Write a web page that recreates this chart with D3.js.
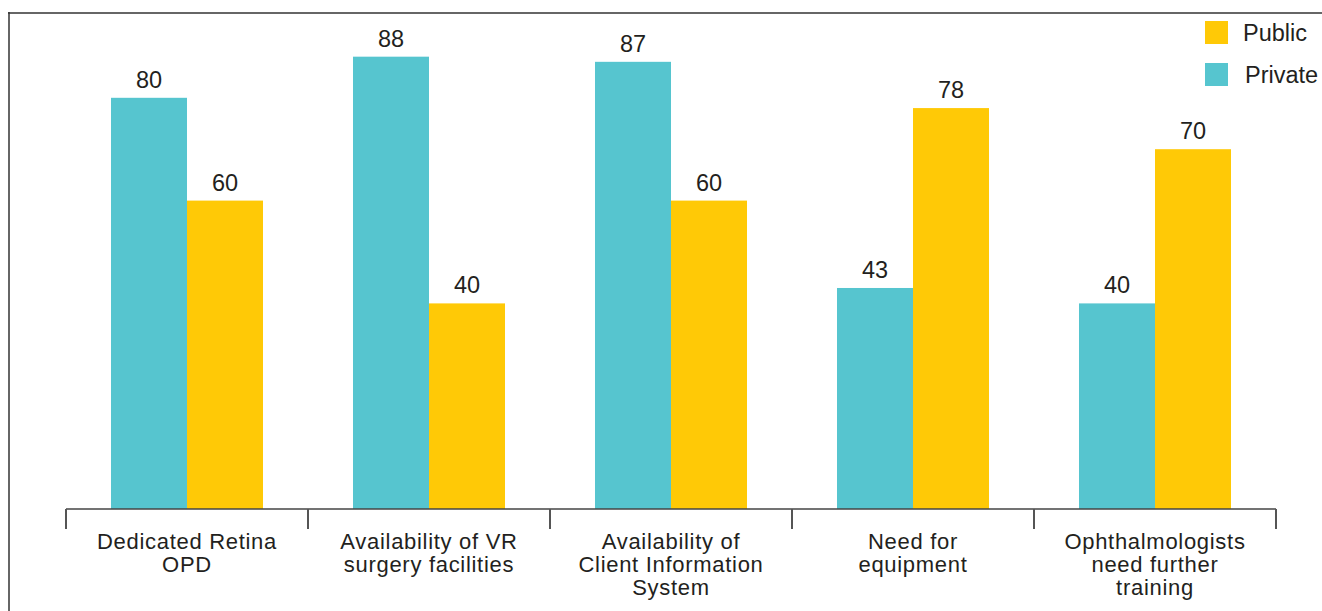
<!DOCTYPE html>
<html><head><meta charset="utf-8">
<script src="https://cdn.jsdelivr.net/npm/d3@7"></script>
<style>body{margin:0;background:#fff;} svg{display:block;font-family:"Liberation Sans",Arial,sans-serif;}</style>
</head><body>
<svg id="c" width="1322" height="611"></svg>
<script>
const categories = [
  ["Dedicated Retina", "OPD"],
  ["Availability of VR", "surgery facilities"],
  ["Availability of", "Client Information", "System"],
  ["Need for", "equipment"],
  ["Ophthalmologists", "need further", "training"]
];
const seriesNames = ["Private", "Public"];
const privateValues = [80, 88, 87, 43, 40];
const publicValues = [60, 40, 60, 78, 70];
const colors = {Private: "#56c5cf", Public: "#ffc906"};

const svg = d3.select("#c");
// frame
svg.append("line").attr("x1",8).attr("x2",1322).attr("y1",13).attr("y2",13).attr("stroke","#666").attr("stroke-width",2);
svg.append("line").attr("x1",9).attr("x2",9).attr("y1",12).attr("y2",611).attr("stroke","#333").attr("stroke-width",1.5);

const baseY = 509;
const x0 = d3.scaleBand().domain(d3.range(categories.length)).range([66, 1276]).paddingInner(0).paddingOuter(0);
const x1 = d3.scaleBand().domain(seriesNames).range([0, x0.bandwidth()]).paddingInner(0).paddingOuter(0.592);
const y = d3.scaleLinear().domain([0, 100]).range([baseY, baseY - 514]);

const data = categories.map((c,i)=>({i, Private: privateValues[i], Public: publicValues[i]}));

const g = svg.append("g");
data.forEach(d=>{
  seriesNames.forEach(s=>{
    const bx = x0(d.i) + x1(s);
    g.append("rect").attr("x", bx).attr("y", y(d[s])).attr("width", x1.bandwidth()).attr("height", baseY - y(d[s])).attr("fill", colors[s]);
    g.append("text").attr("x", bx + x1.bandwidth()/2).attr("y", y(d[s]) - 10).attr("text-anchor","middle")
      .attr("font-size", 23.5).attr("fill","#231f20").text(d[s]);
  });
});

// axis
const axisG = svg.append("g");
axisG.append("line").attr("x1",66).attr("x2",1276).attr("y1",baseY).attr("y2",baseY).attr("stroke","#444").attr("stroke-width",1.5);
const ticks = d3.range(categories.length+1).map(i => i < categories.length ? x0(i) : x0(categories.length-1) + x0.bandwidth());
ticks.forEach(t=>{
  axisG.append("line").attr("x1",t).attr("x2",t).attr("y1",baseY).attr("y2",baseY+20).attr("stroke","#555").attr("stroke-width",2);
});
categories.forEach((c,i)=>{
  c.forEach((line,j)=>{
    axisG.append("text").attr("text-anchor","middle").attr("font-size",22).attr("letter-spacing",0.7).attr("fill","#231f20")
      .attr("x", x0(i)+x0.bandwidth()/2).attr("y", 549 + j*23).text(line);
  });
});

// legend
const legendItems = ["Public", "Private"];
legendItems.forEach((s,k)=>{
  const ly = 21 + k*42;
  svg.append("rect").attr("x",1205).attr("y",ly).attr("width",23).attr("height",23).attr("fill",colors[s]);
  svg.append("text").attr("x", s==="Public"?1243:1245).attr("y", ly+20).attr("font-size",23.5).attr("fill","#231f20").text(s);
});
</script>
</body></html>
